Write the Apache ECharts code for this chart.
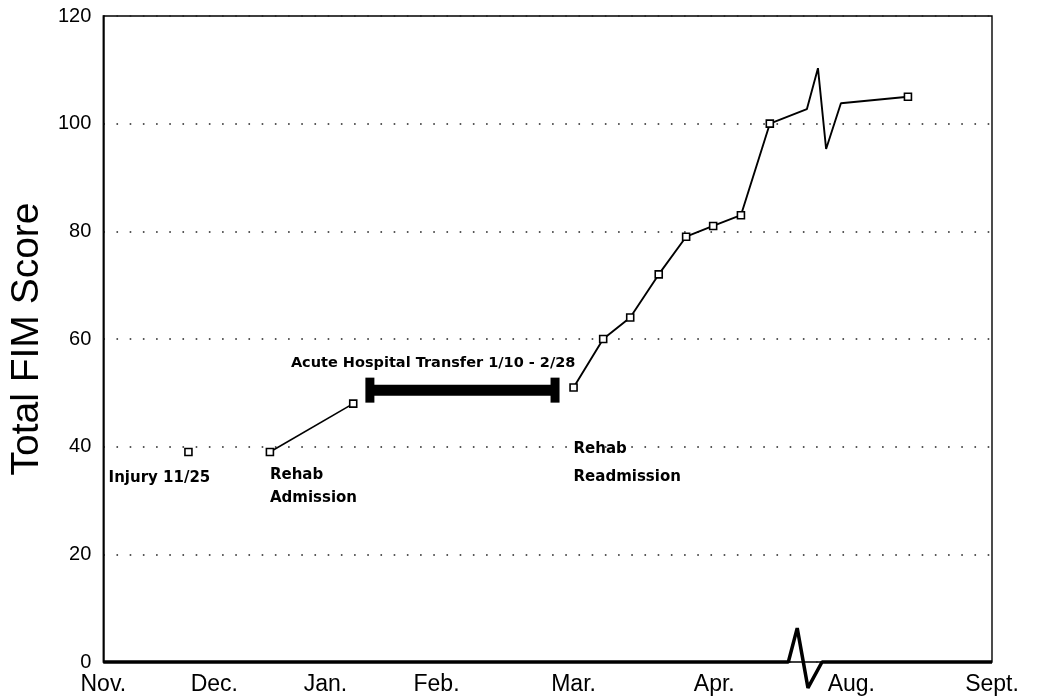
<!DOCTYPE html>
<html>
<head>
<meta charset="utf-8">
<script src="https://cdn.jsdelivr.net/npm/echarts@6.0.0/dist/echarts.min.js"></script>
<style>
    html, body { margin: 0; padding: 0; background: #fff; }
    #main { width: 1037px; height: 700px; }
</style>
</head>
<body>
<div id="main"></div>
<script>
// x is position along the (broken) time axis, Nov. = 0, Sept. = 240
var monthLabels = ['Nov.', 'Dec.', 'Jan.', 'Feb.', 'Mar.', 'Apr.', 'Aug.', 'Sept.'];
var monthTicks = [0, 30, 60, 90, 127, 165, 202, 240];

var injury = [[23, 39]];
var firstStay = [[45, 39], [67.5, 48]];
var secondStay = [[127, 51], [135, 60], [142.3, 64], [150, 72], [157.4, 79], [164.7, 81],
    [172.2, 83], [180, 100], [190, 102.7], [193, 110.3], [195.2, 95.3], [199.2, 103.8], [217.3, 105]];
// vertices of the zigzag break drawn in the line (no marker)
var lineBreakX = [190, 193, 195.2, 199.2];
var transfer = [[72, 50.5], [122, 50.5]];
// bottom axis with its break mark
var axisBreak = [[0, 0], [185, 0], [187.4, 6.3], [190.3, -4.8], [194.1, 0], [240, 0]];

var labelFont = {
    fontFamily: 'DejaVu Sans',
    fontWeight: 'bold',
    fontSize: 15,
    color: '#000'
};

var markStyle = {
    color: '#fff',
    borderColor: '#000',
    borderWidth: 1.6
};

function withLabel(p, text, offset, lineHeight) {
    return {
        value: p,
        label: Object.assign({
            show: true,
            position: 'bottom',
            align: 'left',
            formatter: text,
            offset: offset,
            lineHeight: lineHeight
        }, labelFont)
    };
}

var injuryData = [{
    value: injury[0],
    label: Object.assign({
        show: true,
        position: 'bottom',
        formatter: 'Injury 11/25',
        offset: [-29, 9]
    }, labelFont)
}];
var firstData = firstStay.map(function(p, i) {
    return i === 0 ? withLabel(p, 'Rehab\nAdmission', [0, 2], 23) : p;
});
var secondData = secondStay.map(function(p, i) {
    if (i === 0) return withLabel(p, 'Rehab\nReadmission', [0, 38], 28);
    if (lineBreakX.indexOf(p[0]) >= 0) return { value: p, symbol: 'none' };
    return p;
});
var transferData = transfer.map(function(p, i) {
    if (i > 0) return p;
    return {
        value: p,
        label: Object.assign({
            show: true,
            position: 'top',
            align: 'left',
            formatter: 'Acute Hospital Transfer 1/10 - 2/28',
            offset: [-79, -2]
        }, labelFont, { fontSize: 14.5 })
    };
});

var myChart = echarts.init(document.getElementById('main'));
var option = {
    animation: false,
    backgroundColor: '#fff',
    grid: {
        left: 103,
        right: 45,
        top: 16,
        bottom: 38,
        show: true,
        borderColor: '#000',
        borderWidth: 1.4
    },
    xAxis: {
        type: 'value',
        min: 0,
        max: 240,
        axisLine: { show: false },
        axisTick: { show: false },
        splitLine: { show: false },
        axisLabel: {
            customValues: monthTicks,
            formatter: function(v) {
                var i = monthTicks.indexOf(v);
                return i >= 0 ? monthLabels[i] : '';
            },
            margin: 11,
            fontFamily: 'Liberation Sans',
            fontSize: 23,
            color: '#000'
        }
    },
    yAxis: {
        type: 'value',
        min: 0,
        max: 120,
        interval: 20,
        name: 'Total FIM Score',
        nameLocation: 'middle',
        nameGap: 53,
        nameTextStyle: {
            fontFamily: 'Liberation Sans',
            fontSize: 39,
            color: '#000'
        },
        axisLine: { show: true, lineStyle: { color: '#000', width: 1.5 } },
        axisTick: { show: false },
        axisLabel: {
            margin: 12,
            fontFamily: 'Liberation Sans',
            fontSize: 20,
            color: '#000'
        },
        splitLine: {
            show: true,
            lineStyle: { color: '#222', width: 1.6, type: [1.6, 11.6] }
        }
    },
    series: [{
        name: 'axis',
        type: 'line',
        data: axisBreak,
        symbol: 'none',
        clip: false,
        silent: true,
        lineStyle: { color: '#000', width: 3.5 },
        z: 1
    }, {
        name: 'injury',
        type: 'line',
        data: injuryData,
        symbol: 'rect',
        symbolSize: 7,
        itemStyle: markStyle,
        z: 3
    }, {
        name: 'first',
        type: 'line',
        data: firstData,
        symbol: 'rect',
        symbolSize: 7,
        showAllSymbol: true,
        itemStyle: markStyle,
        lineStyle: { color: '#000', width: 1.6 },
        z: 3
    }, {
        name: 'second',
        type: 'line',
        data: secondData,
        symbol: 'rect',
        symbolSize: 7,
        showAllSymbol: true,
        itemStyle: markStyle,
        lineStyle: { color: '#000', width: 1.9 },
        z: 3
    }, {
        name: 'transfer',
        type: 'line',
        data: transferData,
        symbol: 'rect',
        symbolSize: [9, 25],
        showAllSymbol: true,
        itemStyle: { color: '#000' },
        lineStyle: { color: '#000', width: 11 },
        z: 2
    }]
};
myChart.setOption(option);
</script>
</body>
</html>
